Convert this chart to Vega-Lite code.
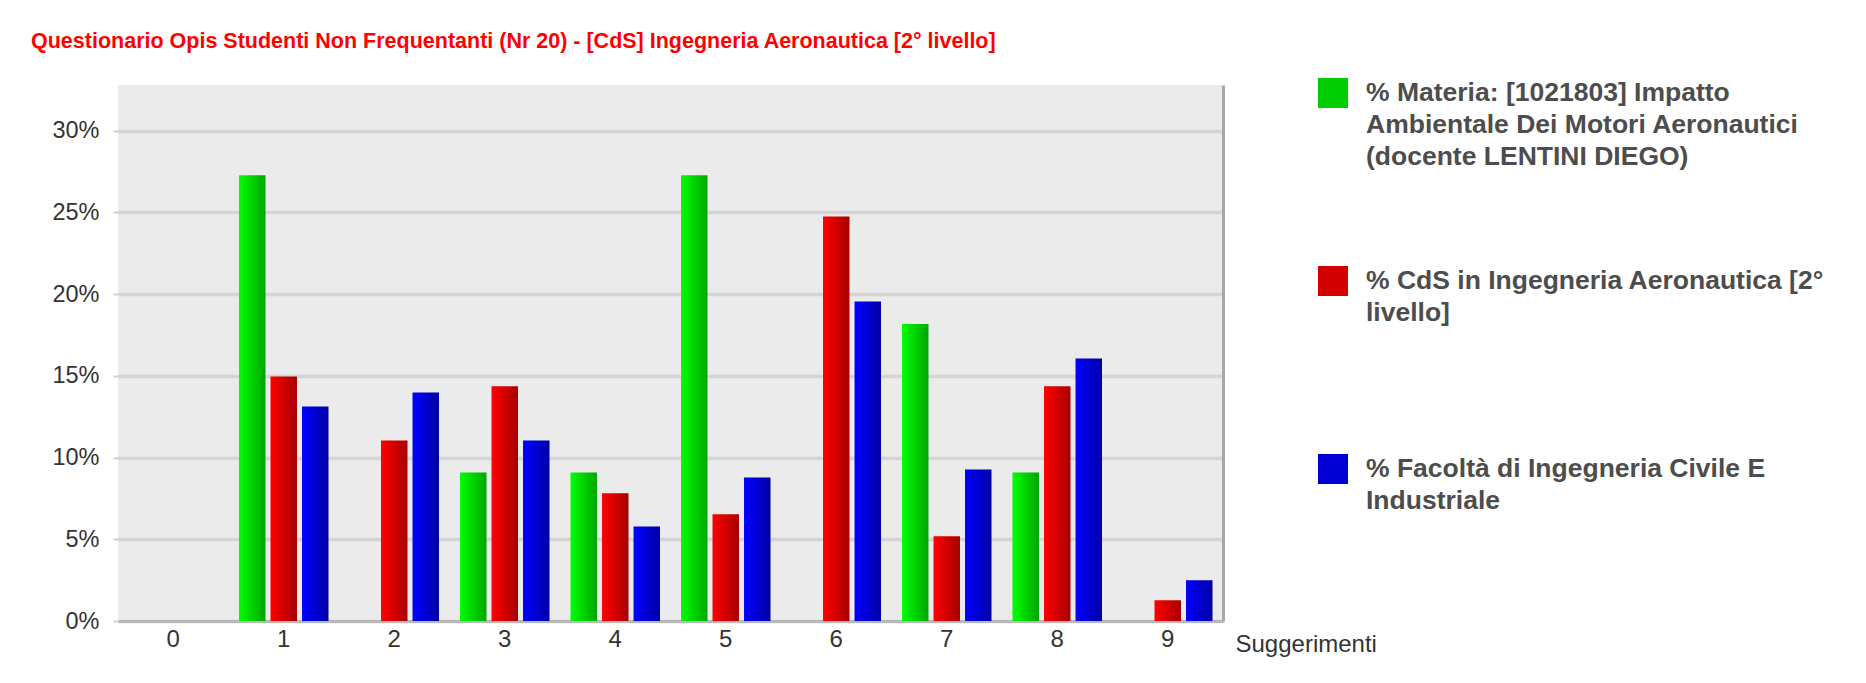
{
  "$schema": "https://vega.github.io/schema/vega-lite/v6.json",
  "autosize": {"type": "none"},
  "width": 1105,
  "height": 536,
  "padding": {"left": 118, "top": 85, "right": 643, "bottom": 62},
  "background": "white",
  "title": {
    "text": "Questionario Opis Studenti Non Frequentanti (Nr 20) - [CdS] Ingegneria Aeronautica [2° livello]",
    "anchor": "start",
    "frame": "group",
    "color": "#ff0000",
    "font": "Liberation Sans",
    "fontSize": 21.5,
    "fontWeight": "bold",
    "dx": -87,
    "baseline": "alphabetic",
    "offset": 9
  },
  "data": {
    "values": [
      {"s": "0", "serie": "M", "v": 0},
      {"s": "1", "serie": "M", "v": 0.2727},
      {"s": "2", "serie": "M", "v": 0},
      {"s": "3", "serie": "M", "v": 0.0909},
      {"s": "4", "serie": "M", "v": 0.0909},
      {"s": "5", "serie": "M", "v": 0.2727},
      {"s": "6", "serie": "M", "v": 0},
      {"s": "7", "serie": "M", "v": 0.1818},
      {"s": "8", "serie": "M", "v": 0.0909},
      {"s": "9", "serie": "M", "v": 0},
      {"s": "0", "serie": "C", "v": 0},
      {"s": "1", "serie": "C", "v": 0.1496},
      {"s": "2", "serie": "C", "v": 0.1105},
      {"s": "3", "serie": "C", "v": 0.1436},
      {"s": "4", "serie": "C", "v": 0.0781},
      {"s": "5", "serie": "C", "v": 0.0653},
      {"s": "6", "serie": "C", "v": 0.2475},
      {"s": "7", "serie": "C", "v": 0.0518},
      {"s": "8", "serie": "C", "v": 0.1436},
      {"s": "9", "serie": "C", "v": 0.0127},
      {"s": "0", "serie": "F", "v": 0},
      {"s": "1", "serie": "F", "v": 0.1313},
      {"s": "2", "serie": "F", "v": 0.1399},
      {"s": "3", "serie": "F", "v": 0.1105},
      {"s": "4", "serie": "F", "v": 0.0579},
      {"s": "5", "serie": "F", "v": 0.0878},
      {"s": "6", "serie": "F", "v": 0.1955},
      {"s": "7", "serie": "F", "v": 0.0927},
      {"s": "8", "serie": "F", "v": 0.1607},
      {"s": "9", "serie": "F", "v": 0.0249}
    ]
  },
  "layer": [
    {
      "encoding": {
        "x": {
          "field": "s",
          "type": "nominal",
          "scale": {"paddingInner": 0.19, "paddingOuter": 0.095},
          "axis": {
            "title": "Suggerimenti",
            "labelAngle": 0,
            "labelFont": "Liberation Sans",
            "labelFontSize": 24,
            "labelColor": "#333333",
            "labelPadding": 6,
            "ticks": false,
            "domainColor": "#b8b8b8",
            "domainWidth": 3,
            "titleFont": "Liberation Sans",
            "titleFontSize": 24,
            "titleFontWeight": "normal",
            "titleColor": "#333333",
            "titleX": 1117,
            "titleY": 30,
            "titleAlign": "left",
            "titleBaseline": "alphabetic",
            "titleAnchor": "start"
          }
        },
        "y": {
          "field": "v",
          "type": "quantitative",
          "scale": {"domain": [0, 0.328], "nice": false},
          "axis": {
            "orient": "left",
            "title": null,
            "values": [0, 0.05, 0.1, 0.15, 0.2, 0.25, 0.3],
            "format": ".0%",
            "labelFont": "Liberation Sans",
            "labelFontSize": 23.5,
            "labelColor": "#333333",
            "labelPadding": 14,
            "tickSize": 5,
            "tickColor": "#d0d0d0",
            "tickWidth": 2,
            "domain": false,
            "grid": true,
            "gridColor": "#d4d4d4",
            "gridWidth": 3.5
          }
        },
        "xOffset": {
          "field": "serie",
          "type": "nominal",
          "scale": {"domain": ["M", "C", "F"], "paddingInner": 0.16, "paddingOuter": 0}
        }
      },
      "layer": [
        {
          "mark": {"type": "bar", "opacity": 0},
          "encoding": {
            "color": {
              "field": "serie",
              "type": "nominal",
              "scale": {"domain": ["M", "C", "F"], "range": ["#00cc00", "#d40000", "#0000d4"]},
              "legend": {
                "title": null,
                "orient": "none",
                "legendX": 1200,
                "legendY": -7,
                "padding": 0,
                "symbolType": "square",
                "symbolSize": 900,
                "symbolStrokeWidth": 0,
                "symbolOpacity": 1,
                "labelFont": "Liberation Sans",
                "labelFontSize": 26.5,
                "labelFontWeight": "bold",
                "labelColor": "#4d4d4d",
                "labelOffset": 18,
                "labelLimit": 0,
                "labelBaseline": "middle",
                "rowPadding": 95,
                "labelExpr": "datum.label == 'M' ? ['% Materia: [1021803] Impatto', 'Ambientale Dei Motori Aeronautici', '(docente LENTINI DIEGO)'] : datum.label == 'C' ? ['% CdS in Ingegneria Aeronautica [2°', 'livello]', ''] : ['\u2002% Facoltà di Ingegneria Civile E', 'Industriale', '']"
              }
            }
          }
        },
        {
          "transform": [{"filter": "datum.serie == 'M'"}],
          "mark": {"type": "bar", "color": {"gradient": "linear", "x1": 0, "x2": 1, "y1": 0, "y2": 0, "stops": [{"offset": 0, "color": "#00ff00"}, {"offset": 1, "color": "#00a600"}]}}
        },
        {
          "transform": [{"filter": "datum.serie == 'C'"}],
          "mark": {"type": "bar", "color": {"gradient": "linear", "x1": 0, "x2": 1, "y1": 0, "y2": 0, "stops": [{"offset": 0, "color": "#ff0000"}, {"offset": 1, "color": "#a60000"}]}}
        },
        {
          "transform": [{"filter": "datum.serie == 'F'"}],
          "mark": {"type": "bar", "color": {"gradient": "linear", "x1": 0, "x2": 1, "y1": 0, "y2": 0, "stops": [{"offset": 0, "color": "#0000ff"}, {"offset": 1, "color": "#0000a6"}]}}
        }
      ]
    },
    {
      "mark": {"type": "rule", "opacity": 0},
      "encoding": {
        "y": {
          "field": "v",
          "type": "quantitative",
          "scale": {"domain": [0, 0.328], "nice": false},
          "axis": {
            "orient": "right",
            "title": null,
            "labels": false,
            "ticks": false,
            "grid": false,
            "domain": true,
            "domainColor": "#a8a8a8",
            "domainWidth": 3
          }
        }
      }
    }
  ],
  "resolve": {"axis": {"y": "independent"}},
  "config": {
    "view": {"fill": "#ebebeb", "stroke": null},
    "style": {"guide-label": {"lineHeight": 32}}
  }
}
